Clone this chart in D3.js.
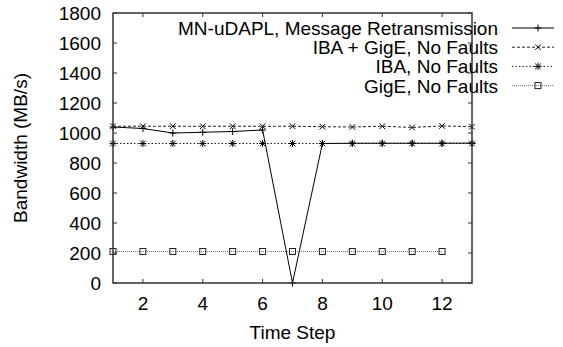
<!DOCTYPE html>
<html>
<head>
<meta charset="utf-8">
<script src="https://cdn.jsdelivr.net/npm/d3@7"></script>
<style>
	body { margin: 0; background: #fff; }
	text { font-family: "Liberation Sans", Arial, sans-serif; fill: #000; }
</style>
</head>
<body>
<svg id="chart" width="563" height="347"></svg>
<script>
// time steps per series
const steps = [1, 2, 3, 4, 5, 6, 7, 8, 9, 10, 11, 12, 13];
const gigeSteps = [1, 2, 3, 4, 5, 6, 7, 8, 9, 10, 11, 12];

const mnUdapl = [1040, 1030, 1000, 1005, 1010, 1020, 0, 930, 932, 932, 932, 932, 933];
const ibaGige = [1045, 1045, 1045, 1045, 1045, 1045, 1045, 1042, 1040, 1045, 1037, 1047, 1042];
const ibaOnly = [930, 930, 930, 930, 930, 930, 930, 930, 930, 930, 930, 930, 930];
const gigeOnly = [210, 210, 210, 210, 210, 210, 210, 210, 210, 210, 210, 210];

const seriesNames = ['MN-uDAPL, Message Retransmission', 'IBA + GigE, No Faults', 'IBA, No Faults', 'GigE, No Faults'];
const xTicks = [2, 4, 6, 8, 10, 12];
const yTicks = [0, 200, 400, 600, 800, 1000, 1200, 1400, 1600, 1800];

const series = [
	{ name: seriesNames[0], xs: steps, ys: mnUdapl, dash: null, color: '#000', marker: 'plus' },
	{ name: seriesNames[1], xs: steps, ys: ibaGige, dash: '3,2', color: '#222', marker: 'cross' },
	{ name: seriesNames[2], xs: steps, ys: ibaOnly, dash: '1.5,2', color: '#222', marker: 'star' },
	{ name: seriesNames[3], xs: gigeSteps, ys: gigeOnly, dash: '1,1', color: '#777', marker: 'square' }
];

const fs = 19;
const m = { left: 113, right: 472, top: 13, bottom: 283 };
const svg = d3.select('#chart');

const x = d3.scaleLinear().domain([1, 13]).range([m.left, m.right]);
const y = d3.scaleLinear().domain([0, 1800]).range([m.bottom, m.top]);

// ticks (gnuplot style: inward, mirrored)
const tl = 4;
const ticks = svg.append('g').attr('stroke', '#333').attr('stroke-width', 1);
xTicks.forEach(t => {
	ticks.append('line').attr('x1', x(t)).attr('x2', x(t)).attr('y1', m.bottom).attr('y2', m.bottom - tl);
	ticks.append('line').attr('x1', x(t)).attr('x2', x(t)).attr('y1', m.top).attr('y2', m.top + tl);
});
yTicks.forEach(t => {
	ticks.append('line').attr('y1', y(t)).attr('y2', y(t)).attr('x1', m.left).attr('x2', m.left + tl);
	ticks.append('line').attr('y1', y(t)).attr('y2', y(t)).attr('x1', m.right).attr('x2', m.right - tl);
});

svg.append('g').selectAll('text')
	.data(xTicks)
	.enter()
	.append('text')
	.attr('x', d => x(d))
	.attr('y', 310)
	.attr('text-anchor', 'middle')
	.attr('font-size', fs)
	.text(d => d);

svg.append('g').selectAll('text')
	.data(yTicks)
	.enter()
	.append('text')
	.attr('x', 101)
	.attr('y', d => y(d) + 7)
	.attr('text-anchor', 'end')
	.attr('font-size', fs)
	.text(d => d);

svg.append('text')
	.attr('x', x(7))
	.attr('y', 339)
	.attr('text-anchor', 'middle')
	.attr('font-size', fs)
	.text('Time Step');

svg.append('text')
	.attr('transform', `translate(27, ${y(900)}) rotate(-90)`)
	.attr('text-anchor', 'middle')
	.attr('font-size', fs)
	.text('Bandwidth (MB/s)');

const drawMarker = (g, type, cx, cy, color) => {
	const s = 3.5;
	const p = g.append('g').attr('stroke', color).attr('stroke-width', 1).attr('fill', 'none');
	if (type === 'plus' || type === 'star') {
		p.append('line').attr('x1', cx - s).attr('x2', cx + s).attr('y1', cy).attr('y2', cy);
		p.append('line').attr('x1', cx).attr('x2', cx).attr('y1', cy - s).attr('y2', cy + s);
	}
	if (type === 'cross' || type === 'star') {
		const d = s * 0.8;
		p.append('line').attr('x1', cx - d).attr('x2', cx + d).attr('y1', cy - d).attr('y2', cy + d);
		p.append('line').attr('x1', cx - d).attr('x2', cx + d).attr('y1', cy + d).attr('y2', cy - d);
	}
	if (type === 'square') {
		p.attr('stroke', '#222');
		p.append('rect').attr('x', cx - 3).attr('y', cy - 3).attr('width', 6).attr('height', 6);
	}
};

const line = d3.line().x(d => x(d[0])).y(d => y(d[1]));
const plot = svg.append('g');

// draw back to front so the solid line sits on top
series.slice().reverse().forEach(s => {
	const pts = s.xs.map((v, i) => [v, s.ys[i]]);
	plot.append('path')
		.attr('d', line(pts))
		.attr('fill', 'none')
		.attr('stroke', s.color)
		.attr('stroke-width', 1)
		.attr('stroke-dasharray', s.dash);
	pts.forEach(p => drawMarker(plot, s.marker, x(p[0]), y(p[1]), s.marker === 'square' ? '#222' : '#000'));
});

// border
svg.append('rect')
	.attr('x', m.left)
	.attr('y', m.top)
	.attr('width', m.right - m.left)
	.attr('height', m.bottom - m.top)
	.attr('fill', 'none')
	.attr('stroke', '#333')
	.attr('stroke-width', 1.5);

// legend
const legend = svg.append('g');
series.forEach((s, i) => {
	const ly = 28 + i * 19.2;
	legend.append('text')
		.attr('x', 498)
		.attr('y', ly + 7)
		.attr('text-anchor', 'end')
		.attr('font-size', fs)
		.text(s.name);
	legend.append('line')
		.attr('x1', 512).attr('x2', 554)
		.attr('y1', ly).attr('y2', ly)
		.attr('stroke', s.color)
		.attr('stroke-width', 1)
		.attr('stroke-dasharray', s.dash);
	drawMarker(legend, s.marker, 538, ly, '#000');
});
</script>
</body>
</html>
